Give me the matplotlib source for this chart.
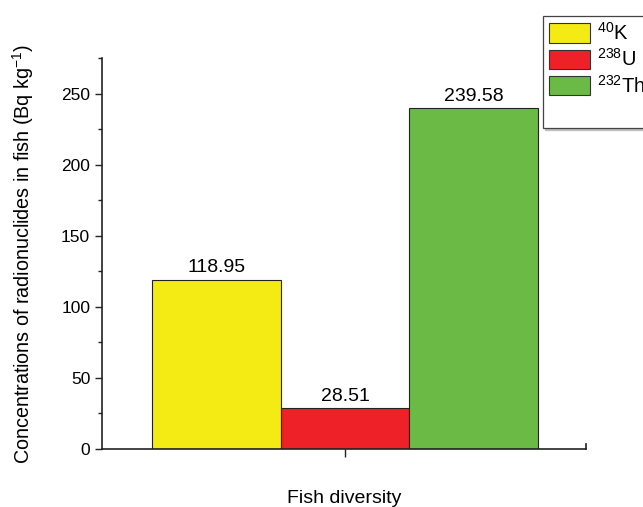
import matplotlib
matplotlib.use("Agg")
import matplotlib.pyplot as plt
from matplotlib.patches import Patch
from matplotlib.ticker import MultipleLocator

plt.rcParams['font.family'] = ['Liberation Sans', 'DejaVu Sans']
plt.rcParams['mathtext.fontset'] = 'custom'
plt.rcParams['mathtext.rm'] = 'Liberation Sans'
plt.rcParams['mathtext.it'] = 'Liberation Sans:italic'

# radionuclide concentrations (Bq/kg)
nuclides = [r'$\mathregular{^{40}}$K', r'$\mathregular{^{238}}$U', r'$\mathregular{^{232}}$Th']
values = [118.95, 28.51, 239.58]
colors = ['#F5EB14', '#EE2028', '#6BBA45']
offsets = [-1, 0, 1]

fig = plt.figure(figsize=(6.43, 5.07), dpi=100)
ax = fig.add_axes([102 / 643, 1 - 449 / 507, 484 / 643, 391 / 507])

bars = ax.bar(offsets, values, width=1.0, color=colors, edgecolor='#222222', linewidth=0.8)
for b, v in zip(bars, values):
    ax.text(b.get_x() + b.get_width() / 2, v + 2.5, f'{v:.2f}', ha='center', va='bottom', fontsize=14)

ax.set_xlim(-1.885, 1.87)
ax.set_ylim(0, 275)
ax.set_xticks([0])
ax.set_xticklabels([''])
ax.yaxis.set_major_locator(MultipleLocator(50))
ax.yaxis.set_minor_locator(MultipleLocator(25))
ax.tick_params(axis='y', which='major', direction='out', length=5, width=1, labelsize=12.5, color='#222222')
ax.tick_params(axis='y', which='minor', direction='out', length=3, width=1, color='#222222')
ax.tick_params(axis='x', which='major', direction='out', length=6, width=1, color='#222222')

for s in ['top', 'right']:
    ax.spines[s].set_visible(False)
for s in ['left', 'bottom']:
    ax.spines[s].set_linewidth(1.2)
    ax.spines[s].set_color('#222222')

# small cap at the right end of the x axis
ax.plot([1, 1], [0, 0.012], transform=ax.transAxes, color='#222222', lw=1.2, clip_on=False)

ax.set_ylabel(r'Concentrations of radionuclides in fish (Bq kg$\mathregular{^{-1}}$)', fontsize=14.2, labelpad=18)
ax.set_xlabel('Fish diversity', fontsize=14, labelpad=20)

handles = [Patch(facecolor=c, edgecolor='#333333', linewidth=0.8) for c in colors]
handles.append(Patch(facecolor='none', edgecolor='none'))
labels = nuclides + ['']
leg = fig.legend(handles, labels, loc='upper left', bbox_to_anchor=(543 / 643, 1 - 16 / 507),
                 fontsize=14.5, frameon=True, fancybox=False, edgecolor='#444444',
                 framealpha=1, shadow={'color': '0.75', 'alpha': 1, 'ox': 1.5, 'oy': -1.5},
                 handlelength=2.05, handleheight=1.1, handletextpad=0.35,
                 labelspacing=0.22, borderpad=0.3, borderaxespad=0)
leg.get_frame().set_linewidth(0.9)

fig.savefig('out.png', dpi=100)
